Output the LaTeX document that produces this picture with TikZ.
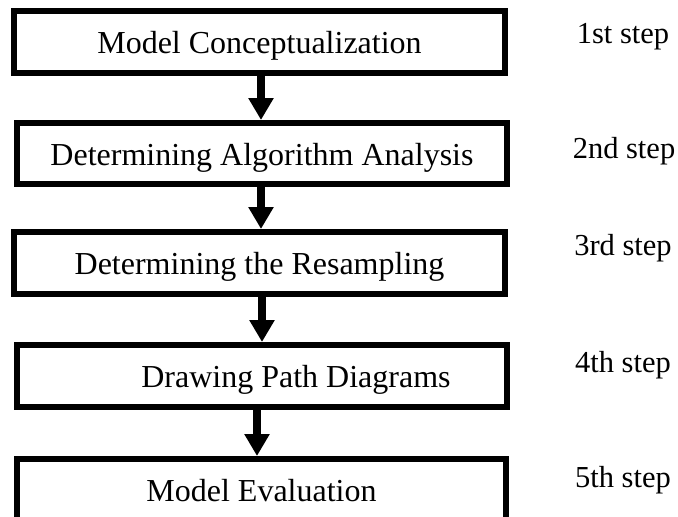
\documentclass[tikz,border=0pt]{standalone}
\usepackage{fontspec}
\setmainfont{Liberation Serif}
\usetikzlibrary{arrows.meta}

\begin{document}
\begin{tikzpicture}[x=1pt,y=-1pt,
  stagebox/.style={draw,line width=6pt,minimum height=62pt,inner sep=0pt,
    text height=26pt,text depth=3pt,font=\fontsize{32}{36}\selectfont},
  steplabel/.style={anchor=base,font=\fontsize{30.5}{36}\selectfont},
  flow/.style={line width=8pt,-{Triangle[width=24pt,length=22pt]}}]
  \clip (0,0) rectangle (678,517);
  % stages
  \node[stagebox,minimum width=491pt] (conc) at (259.5,42) {Model Conceptualization};
  \node[stagebox,minimum width=490pt,minimum height=61pt] (algo) at (262,153.5) {Determining Algorithm Analysis};
  \node[stagebox,minimum width=491pt] (resa) at (259.5,263) {Determining the Resampling};
  \node[stagebox,minimum width=490pt] (path) at (262,376) {\hspace*{68pt}Drawing Path Diagrams};
  \node[stagebox,minimum width=489pt] (eval) at (261.5,490) {Model Evaluation};
  % step labels
  \node[steplabel] (s1) at (623,43) {1st step};
  \node[steplabel] (s2) at (624,158) {2nd step};
  \node[steplabel] (s3) at (623,255) {3rd step};
  \node[steplabel] (s4) at (623,372) {4th step};
  \node[steplabel] (s5) at (623,487) {5th step};
  % arrows
  \draw[flow] ([xshift=1.5pt]conc.south) -- ([xshift=1.5pt]conc.south |- algo.north);
  \draw[flow] ([xshift=-1pt]algo.south) -- ([xshift=-1pt]algo.south |- resa.north);
  \draw[flow] ([xshift=2.5pt]resa.south) -- ([xshift=2.5pt]resa.south |- path.north);
  \draw[flow] ([xshift=-5pt]path.south) -- ([xshift=-5pt]path.south |- eval.north);
\end{tikzpicture}
\end{document}
